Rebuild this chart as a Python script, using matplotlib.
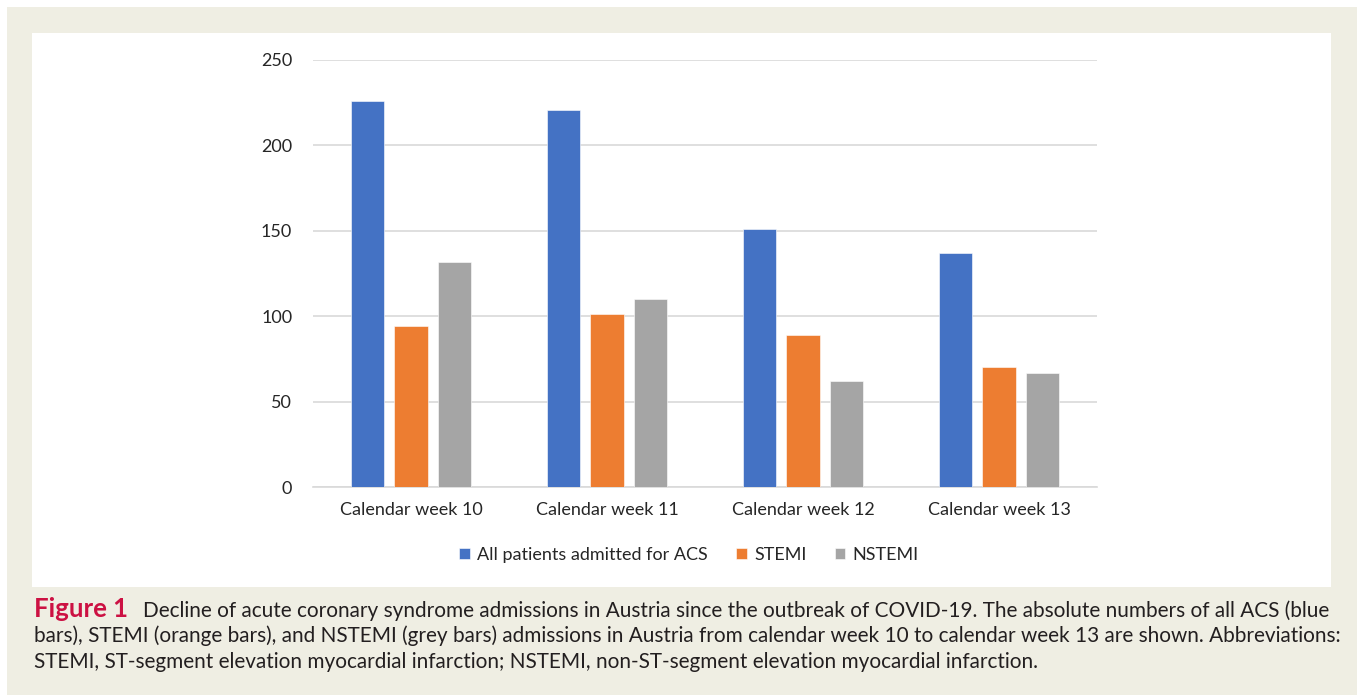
import numpy as np
import matplotlib.pyplot as plt
from matplotlib.patches import Rectangle

weeks = ['Calendar week 10', 'Calendar week 11', 'Calendar week 12', 'Calendar week 13']
acs = [226, 221, 151, 137]
stemi = [94, 101, 89, 70]
nstemi = [132, 110, 62, 67]
series_names = ['All patients admitted for ACS', 'STEMI', 'NSTEMI']
colors = ['#4472C4', '#ED7D31', '#A5A5A5']

caption_lines = [
    'Decline of acute coronary syndrome admissions in Austria since the outbreak of COVID-19. The absolute numbers of all ACS (blue',
    'bars), STEMI (orange bars), and NSTEMI (grey bars) admissions in Austria from calendar week 10 to calendar week 13 are shown. Abbreviations:',
    'STEMI, ST-segment elevation myocardial infarction; NSTEMI, non-ST-segment elevation myocardial infarction.',
]

W, H = 1357, 695
fig = plt.figure(figsize=(W / 100, H / 100), dpi=100, facecolor='white')

# beige page and white chart panel
fig.patches.append(Rectangle((7 / W, 0), 1 - 7 / W, 1 - 7 / H, transform=fig.transFigure,
                             facecolor='#efeee3', edgecolor='none', zorder=0))
fig.patches.append(Rectangle((32 / W, 1 - 587 / H), (1331 - 32) / W, (587 - 33) / H,
                             transform=fig.transFigure, facecolor='white', edgecolor='none', zorder=1))

ax = fig.add_axes([313 / W, 1 - 487 / H, (1097 - 313) / W, 427 / H])
ax.set_facecolor('none')
ax.set_zorder(2)

x = np.arange(len(weeks))
bw = 0.173
step = 0.222
for i, vals in enumerate([acs, stemi, nstemi]):
    ax.bar(x + (i - 1) * step, vals, width=bw, color=colors[i], label=series_names[i],
           edgecolor='white', linewidth=0.4, zorder=3)

ax.set_xlim(-0.5, 3.5)
ax.set_ylim(0, 250)
ax.set_yticks(np.arange(0, 251, 50))
ax.set_xticks(x)
ax.set_xticklabels(weeks)
ax.grid(axis='y', color='#d9d9d9', linewidth=1.2, zorder=0)
for s in ['top', 'right', 'left']:
    ax.spines[s].set_visible(False)
ax.spines['bottom'].set_color('#d9d9d9')
ax.spines['bottom'].set_linewidth(1.2)
ax.tick_params(axis='both', length=0, labelsize=13, labelcolor='#262626')
ax.tick_params(axis='y', pad=15)
ax.tick_params(axis='x', pad=11)
for lab in ax.get_xticklabels() + ax.get_yticklabels():
    lab.set_fontfamily('Lato')

leg = fig.legend(loc='center', bbox_to_anchor=(689 / W, 1 - 555 / H), ncol=3, frameon=False,
                 prop={'family': 'Lato', 'size': 13}, handlelength=0.6, handleheight=0.6,
                 handletextpad=0.4, columnspacing=1.55)
leg.set_zorder(3)
for t in leg.get_texts():
    t.set_color('#262626')

# caption: size the body text so the second line spans the page like the original
fig.canvas.draw()
r = fig.canvas.get_renderer()
probe = fig.text(0, 0, caption_lines[1], fontsize=13, family='Lato')
pw = probe.get_window_extent(renderer=r).width
probe.remove()
cap_size = 13 * (1336 - 34) / pw

fig_label = fig.text(34 / W, 1 - 617 / H, 'Figure 1', fontsize=18.5, fontweight='bold',
                     color='#cc1143', family='Lato', va='baseline', zorder=3)
bb = fig_label.get_window_extent(renderer=r)
fig.text((bb.x1 + 15) / W, 1 - 617 / H, caption_lines[0], fontsize=cap_size, color='#231f20',
         family='Lato', va='baseline', zorder=3)
fig.text(34 / W, 1 - 642.5 / H, caption_lines[1], fontsize=cap_size, color='#231f20',
         family='Lato', va='baseline', zorder=3)
fig.text(34 / W, 1 - 668 / H, caption_lines[2], fontsize=cap_size, color='#231f20',
         family='Lato', va='baseline', zorder=3)

fig.savefig('out.png', dpi=100, facecolor='white')
